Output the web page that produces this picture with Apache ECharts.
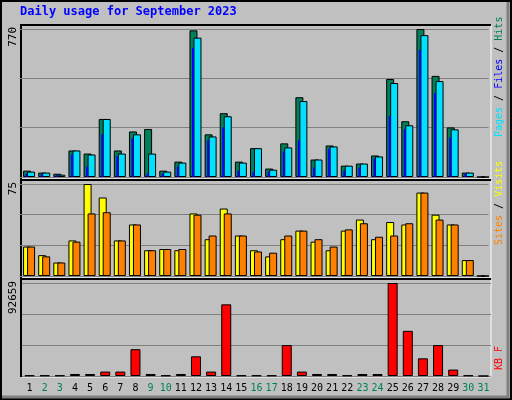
<!DOCTYPE html>
<html>
<head>
<meta charset="utf-8">
<script src="https://cdn.jsdelivr.net/npm/echarts@6/dist/echarts.min.js"></script>
<style>html,body{margin:0;padding:0;background:#c0c0c0}#main{width:512px;height:400px}</style>
</head>
<body>
<div id="main"></div>
<script>
var days = ['1','2','3','4','5','6','7','8','9','10','11','12','13','14','15','16','17','18','19','20','21','22','23','24','25','26','27','28','29','30','31'];
var weekend = ['2','3','9','10','16','17','23','24','30','31'];
var hits  = [33,23,17,138,122,302,138,237,250,33,80,763,222,332,80,150,44,175,415,91,164,59,70,112,510,290,770,526,258,23,0];
var files = [28,23,12,138,117,302,122,222,122,28,75,725,211,316,75,150,38,154,395,91,159,59,70,107,489,269,738,499,248,23,0];
var pages = [17,14,10,117,54,222,107,201,17,17,54,672,190,258,33,28,28,133,190,49,148,33,49,96,316,248,662,436,206,17,0];
var visits = [24,17,11,29,75,64,29,42,21,22,21,51,30,55,33,21,16,30,37,28,21,37,46,30,44,42,68,50,42,13,0];
var sites  = [24,16,11,28,51,52,29,42,21,22,22,50,33,51,33,20,19,33,37,30,24,38,43,32,33,43,68,46,42,13,0];
var kbytes = [600,600,600,2000,2000,4400,4400,26700,2000,600,2000,19600,4400,71400,600,600,600,30800,4400,2000,2000,600,2000,2000,92659,45000,17600,30800,6400,600,0];

var chart = echarts.init(document.getElementById('main'));
var L = 22, R = 21;
// panels: [top, height]
var panels = [[29,148],[184,92],[283,93]];
var maxes = [770,75,92659];
var grids = [], xAxes = [], yAxes = [], series = [];
function layer(panel, shift, data, color, width, showLabels, showSplit) {
  var i = grids.length;
  grids.push({left: L + shift, right: R - shift, top: panels[panel][0], height: panels[panel][1]});
  xAxes.push({type: 'category', gridIndex: i, data: days,
    axisLine: {show: false}, axisTick: {show: false},
    axisLabel: {show: showLabels, interval: 0, margin: 7, fontFamily: 'DejaVu Sans Mono', fontSize: 10,
      color: function (v) { return weekend.indexOf(v) >= 0 ? '#00805a' : '#000'; }}});
  yAxes.push({type: 'value', gridIndex: i, min: 0, max: maxes[panel], interval: maxes[panel] / 3,
    axisLabel: {show: false}, axisLine: {show: false},
    splitLine: {show: showSplit, lineStyle: {color: '#808080', width: 1}}});
  series.push({type: 'bar', xAxisIndex: i, yAxisIndex: i, data: data, barWidth: width,
    itemStyle: {color: color, borderColor: '#000', borderWidth: width > 3 ? 1 : 0}, silent: true, animation: false});
}
layer(0, -2.5, hits, '#00805a', 8, false, true);
layer(0, 1.5, files, '#00e0ff', 8, false, false);
layer(0, -3, pages, '#0000ff', 2, false, false);
layer(1, -2.5, visits, '#ffff00', 8, false, true);
layer(1, 1.5, sites, '#ff8000', 8, false, false);
layer(2, 0, kbytes, '#ff0000', 10, true, true);

function frame(x, y, w, h) {
  return [
    {type: 'rect', shape: {x: x, y: y, width: w, height: h}, style: {fill: 'none', stroke: '#fff', lineWidth: 1}, z: -1},
    {type: 'polyline', shape: {points: [[x, y + h], [x, y], [x + w, y]]}, style: {stroke: '#000', lineWidth: 2, fill: null}, z: -1}
  ];
}
var gfx = [
  {type: 'rect', shape: {x: 1, y: 1, width: 510, height: 398}, style: {fill: '#c0c0c0', stroke: '#000', lineWidth: 2}, z: -10},
  {type: 'polyline', shape: {points: [[508, 2], [508, 397], [2, 397]]}, style: {stroke: '#808080', lineWidth: 3, fill: null}, z: -9},
  {type: 'text', left: 20, top: 6, style: {text: 'Daily usage for September 2023', fill: '#0000ff', font: 'bold 12px "DejaVu Sans Mono"'}}
].concat(frame(21, 25, 470, 154), frame(21, 180, 470, 98), frame(21, 279, 470, 98));
// rotated left axis max labels (reading bottom to top)
function leftLabel(x, y, t) {
  gfx.push({type: 'text', x: x, y: y, rotation: Math.PI / 2, style: {text: t, fill: '#000', font: '11px "DejaVu Sans Mono"', align: 'right', verticalAlign: 'middle'}});
}
leftLabel(13, 27, '770');
leftLabel(13, 182, '75');
leftLabel(13, 281, '92659');
function rightLabel(y, parts) {
  var children = [], off = 0;
  parts.forEach(function (p) {
    children.push({type: 'text', style: {text: p[0], fill: p[1], font: '10px "DejaVu Sans Mono"', x: off, y: 0, verticalAlign: 'middle'}});
    off += p[0].length * 6.02;
  });
  gfx.push({type: 'group', x: 499, y: y, rotation: Math.PI / 2, children: children});
}
rightLabel(137, [['Pages', '#00e0ff'], [' / ', '#000'], ['Files', '#0000ff'], [' / ', '#000'], ['Hits', '#00805a']]);
rightLabel(245, [['Sites', '#ff8000'], [' / ', '#000'], ['Visits', '#ffff00']]);
rightLabel(370, [['KB F', '#ff0000']]);
chart.setOption({backgroundColor: '#c0c0c0', grid: grids, xAxis: xAxes, yAxis: yAxes, series: series, graphic: gfx, animation: false});
</script>
</body>
</html>
